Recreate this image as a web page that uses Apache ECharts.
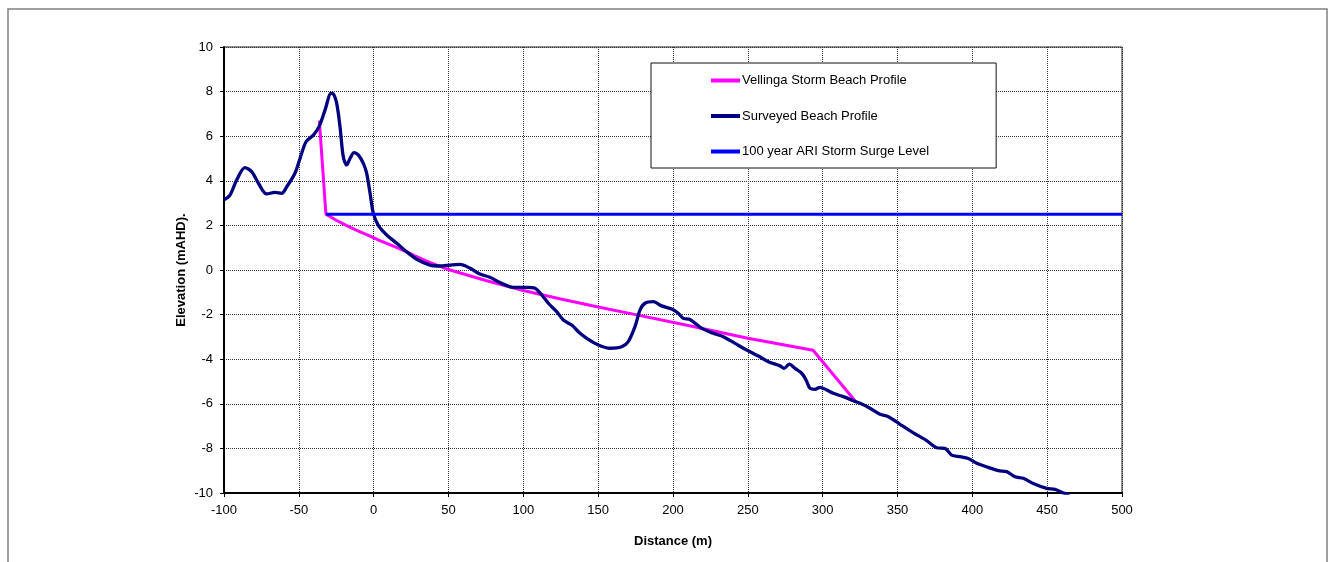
<!DOCTYPE html>
<html>
<head>
<meta charset="utf-8">
<script src="https://cdn.jsdelivr.net/npm/echarts@6/dist/echarts.min.js"></script>
<style>
html,body{margin:0;padding:0;background:#fff;}
#chart{width:1335px;height:562px;}
</style>
</head>
<body>
<div id="chart"></div>
<script>
// ---- Data ----
var seriesNames = ['Vellinga Storm Beach Profile', 'Surveyed Beach Profile', '100 year ARI Storm Surge Level'];

var vellingaProfile = [
  [-36.3, 6.7], [-31.9, 2.5], [-24.7, 2.22], [-18, 1.99], [-11.3, 1.78], [-3.5, 1.55],
  [4.2, 1.32], [12, 1.1], [19.8, 0.88], [27.6, 0.63], [35.4, 0.4], [43, 0.2], [51, 0.0],
  [75, -0.47], [100, -0.92], [125, -1.3], [150, -1.66], [175, -2.0], [211, -2.5],
  [250, -3.06], [293.6, -3.6], [322, -5.9]
];

var surveyedProfile = [
  [-100, 3.15], [-96, 3.36], [-91.5, 4.04], [-86, 4.59], [-81.5, 4.41], [-77, 3.89],
  [-71.5, 3.41], [-66, 3.48], [-61.5, 3.44], [-58, 3.74], [-52.6, 4.34], [-49.2, 5.0],
  [-45.2, 5.75], [-40.3, 6.05], [-36.5, 6.43], [-32.5, 7.17], [-28.5, 7.92], [-27, 7.9],
  [-24.7, 7.47], [-22.5, 6.43], [-20.3, 5.08], [-18, 4.71], [-15.8, 5.0], [-13.1, 5.26],
  [-10.3, 5.16], [-6.9, 4.78], [-4.7, 4.34], [-2.4, 3.44], [-0.2, 2.54], [3.1, 2.0],
  [8.7, 1.57], [15.4, 1.2], [22, 0.82], [28.8, 0.48], [37.6, 0.22], [44.3, 0.18],
  [51, 0.22], [57.7, 0.25], [64.4, 0.08], [71, -0.18], [77.7, -0.33], [85.5, -0.6],
  [93.3, -0.78], [102.2, -0.78], [107.8, -0.82], [112.3, -1.12], [116.7, -1.49],
  [122.3, -1.87], [126.7, -2.24], [132.3, -2.47], [137.9, -2.84], [143.4, -3.11],
  [150.1, -3.36], [157.9, -3.51], [165.7, -3.44], [170.1, -3.21], [174.6, -2.54],
  [178, -1.79], [181.3, -1.49], [186.9, -1.42], [192.4, -1.61], [199.1, -1.75],
  [203.5, -1.94], [206.9, -2.17], [211.3, -2.22], [219.1, -2.61], [226.9, -2.84],
  [233.6, -2.99], [241.4, -3.29], [249.2, -3.59], [257, -3.86], [263.7, -4.11],
  [271.5, -4.30], [274.2, -4.41], [277.7, -4.22], [281.5, -4.41], [286, -4.63],
  [288.9, -4.93], [291.6, -5.31], [294.9, -5.35], [298.2, -5.26], [302.7, -5.38],
  [307.1, -5.53], [313.8, -5.68], [320.5, -5.86], [326.1, -6.01], [331.6, -6.2],
  [338.3, -6.47], [343.9, -6.58], [351.7, -6.92], [360.6, -7.3], [369.5, -7.65],
  [376.2, -7.97], [381.7, -8.0], [386.2, -8.3], [391.8, -8.37], [397.3, -8.45],
  [402.9, -8.67], [410.7, -8.85], [417.4, -9.0], [422.9, -9.04], [428.5, -9.27],
  [434, -9.34], [440.7, -9.57], [449.6, -9.79], [455.2, -9.84], [460.8, -10.0], [465, -10.05]
];

var stormSurgeLevel = [[-31.9, 2.5], [500, 2.5]];

var xTicks = { min: -100, max: 500, interval: 50 };
var yTicks = { min: -10, max: 10, interval: 2 };

// ---- Chart ----
var chart = echarts.init(document.getElementById('chart'), null, { renderer: 'canvas' });
var font = 'Liberation Sans, Arial, sans-serif';

chart.setOption({
  animation: false,
  backgroundColor: '#fff',
  textStyle: { fontFamily: font },
  graphic: [{
    type: 'rect',
    shape: { x: 8, y: 9, width: 1319, height: 570 },
    style: { fill: 'none', stroke: '#808080', lineWidth: 1.5 },
    silent: true, z: -10
  }],
  grid: {
    left: 224, right: 213, top: 47, bottom: 69,
    show: true, borderColor: '#222', borderWidth: 1, backgroundColor: 'transparent'
  },
  legend: {
    orient: 'vertical',
    left: 651, top: 63,
    padding: [11, 67, 10, 60],
    itemGap: 22.5,
    itemWidth: 29, itemHeight: 4,
    backgroundColor: '#fff',
    borderColor: '#111', borderWidth: 1,
    textStyle: { fontFamily: font, fontSize: 13, color: '#000', padding: [0, 0, 0, -3] },
    data: seriesNames.map(function (n) { return { name: n, icon: 'rect' }; })
  },
  xAxis: {
    type: 'value',
    min: xTicks.min, max: xTicks.max, interval: xTicks.interval,
    name: 'Distance (m)', nameLocation: 'middle', nameGap: 42,
    nameTextStyle: { fontFamily: font, fontSize: 13, fontWeight: 'bold', color: '#000' },
    axisLine: { show: true, onZero: false, lineStyle: { color: '#000', width: 2 } },
    axisTick: { show: true, inside: false, length: 4, lineStyle: { color: '#000' } },
    axisLabel: { fontFamily: font, fontSize: 13, color: '#000', margin: 11 },
    splitLine: { show: true, lineStyle: { color: '#333', type: [1, 1], width: 1 } }
  },
  yAxis: {
    type: 'value',
    min: yTicks.min, max: yTicks.max, interval: yTicks.interval,
    name: 'Elevation (mAHD).', nameLocation: 'middle', nameGap: 36, nameRotate: 90,
    nameMoveOverlap: false,
    nameTextStyle: { fontFamily: font, fontSize: 13, fontWeight: 'bold', color: '#000' },
    axisLine: { show: true, onZero: false, lineStyle: { color: '#000', width: 2 } },
    axisTick: { show: true, inside: false, length: 4, lineStyle: { color: '#000' } },
    axisLabel: { fontFamily: font, fontSize: 13, color: '#000', margin: 11 },
    splitLine: { show: true, lineStyle: { color: '#333', type: [1, 1], width: 1 } }
  },
  series: [
    {
      name: seriesNames[0], type: 'line', data: vellingaProfile,
      showSymbol: false, symbol: 'none', smooth: false,
      lineStyle: { color: '#FF00FF', width: 3 }, itemStyle: { color: '#FF00FF' }, z: 2
    },
    {
      name: seriesNames[1], type: 'line', data: surveyedProfile,
      showSymbol: false, symbol: 'none', smooth: 0.3,
      lineStyle: { color: '#000080', width: 3.3 }, itemStyle: { color: '#000080' }, z: 3
    },
    {
      name: seriesNames[2], type: 'line', data: stormSurgeLevel,
      showSymbol: false, symbol: 'none',
      lineStyle: { color: '#0000FF', width: 3 }, itemStyle: { color: '#0000FF' }, z: 4
    }
  ]
});
</script>
</body>
</html>
